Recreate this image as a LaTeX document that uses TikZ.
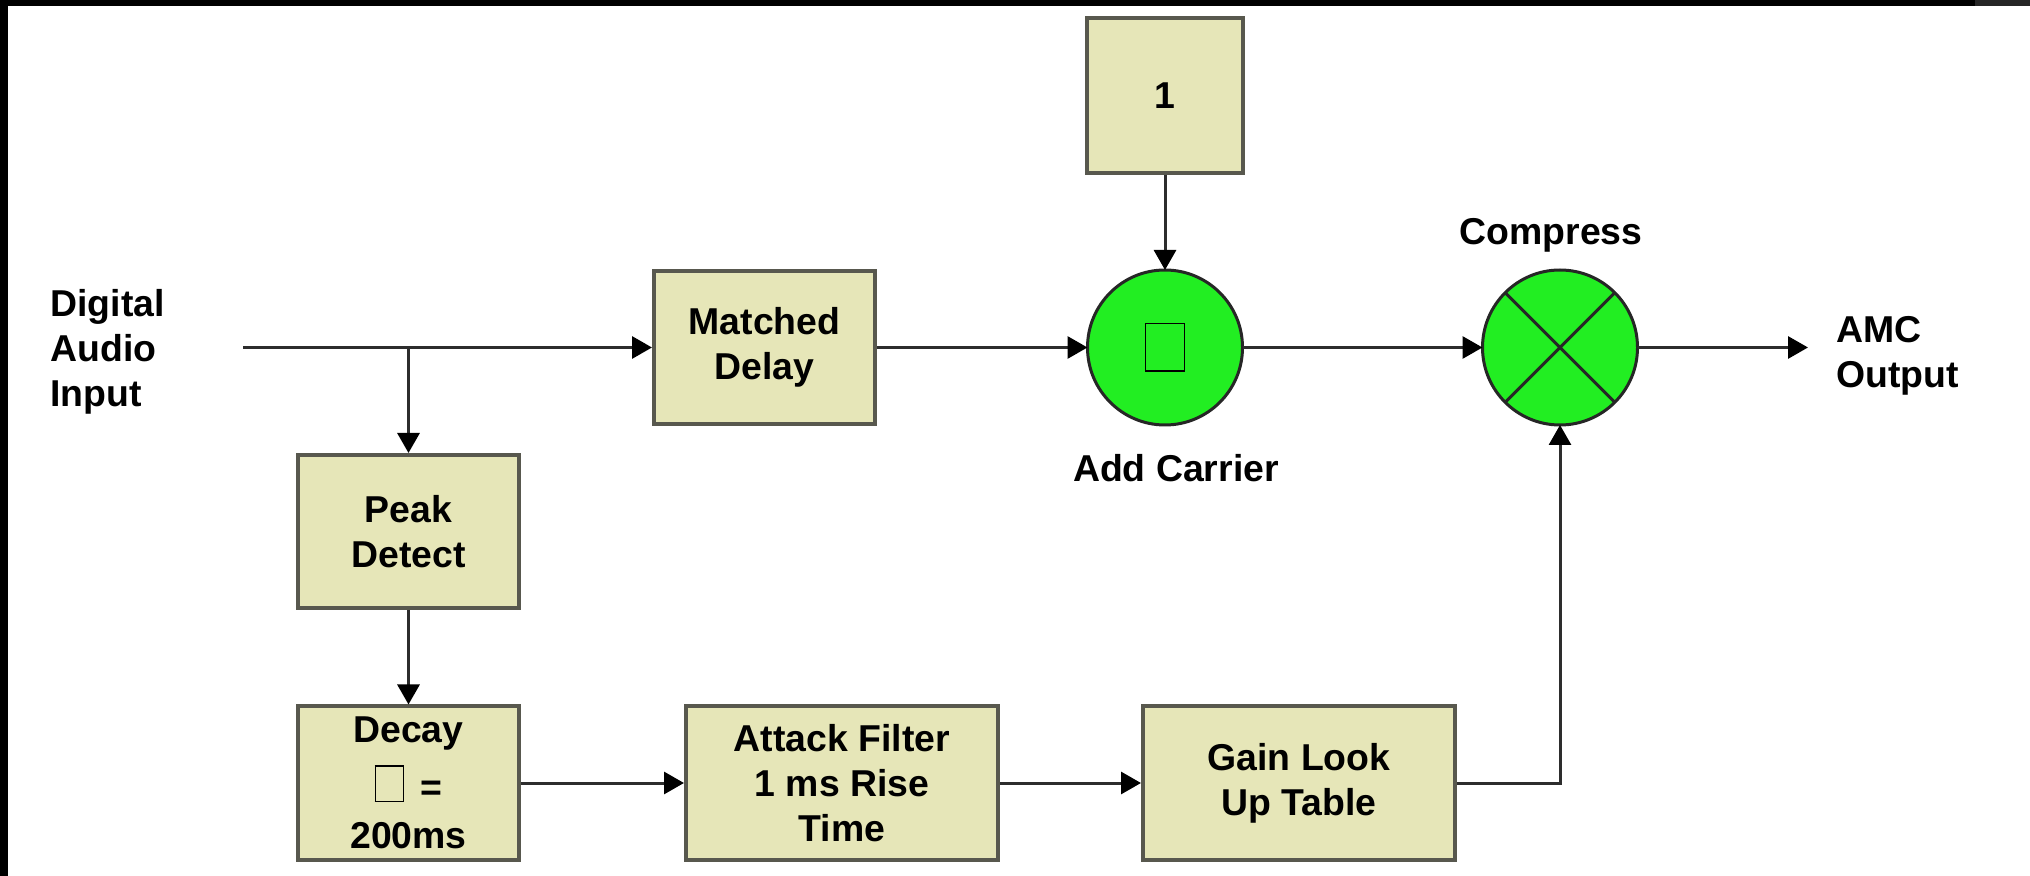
\documentclass[tikz,border=0pt]{standalone}
\usepackage{fontspec}
\setmainfont{Liberation Sans}
\usetikzlibrary{arrows.meta}
\definecolor{boxfill}{RGB}{230,230,184}
\definecolor{boxline}{RGB}{88,88,78}
\definecolor{sumfill}{RGB}{34,238,34}
\definecolor{wirecol}{RGB}{45,45,45}
% empty glyph placeholder box
\newcommand\tofubox[2]{{\setlength\fboxsep{0pt}\setlength\fboxrule{0.6pt}\fbox{\rule{0pt}{#2}\rule{#1}{0pt}}}}
\begin{document}
\begin{tikzpicture}[x=0.5pt,y=-0.5pt,
  every node/.style={font=\fontsize{18.7}{22.5}\selectfont\bfseries, inner sep=0pt},
  block/.style={draw=boxline, line width=2pt, fill=boxfill, align=center, minimum height=76.5pt},
  narrow/.style={block, minimum width=110.5pt},
  wide/.style={block, minimum width=156pt},
  sumnode/.style={circle, draw=black!85, line width=1.5pt, fill=sumfill, minimum size=77.5pt, outer sep=0pt},
  wire/.style={draw=wirecol, line width=1.5pt},
  flow/.style={wire, -{Triangle[length=10pt,width=11pt,color=black]}},
  tag/.style={align=left}
]
\useasboundingbox (0,0) rectangle (2030,876);
\fill[white] (0,0) rectangle (2030,876);
% frame strips
\fill[black] (0,0) rectangle (8,876);
\fill[black] (0,0) rectangle (2030,6);
\fill[black!85] (1975,0) rectangle (2030,6);

% labels
\node[tag, anchor=west] (in) at (50,352) {Digital\\Audio\\Input};
\node[tag, anchor=west] (out) at (1836,356) {AMC\\Output};

% blocks
\node[narrow] (delay) at (764.5,347.5) {Matched\\Delay};
\node[narrow] (peak) at (408.5,531.5) {Peak\\Detect};
\node[narrow] (decay) at (408.5,783) {Decay\\[6.5pt]\tofubox{13.5pt}{17pt}\hspace{3pt} =\\[1.5pt]200ms};
\node[wide] (attack) at (842,783) {Attack Filter\\1 ms Rise\\Time};
\node[wide] (gain) at (1299,783) {Gain Look\\Up Table};
\node[block, minimum width=78pt, minimum height=77.5pt] (one) at (1165,95.5) {1};

% summing and multiplying junctions
\node[sumnode] (add) at (1165,347.5) {\tofubox{19pt}{23pt}};
\node[sumnode] (mul) at (1560,347.5) {};
\draw[line width=1.5pt, black!85] (mul.north west) -- (mul.south east) (mul.north east) -- (mul.south west);
\node[anchor=base] (addlbl) at (1176,482) {Add Carrier};
\node[anchor=base] (mullbl) at (1551,245) {Compress};

% signal paths
\coordinate (start) at (243,347.5);
\coordinate (tap) at (408.5,347.5);
\coordinate (outend) at (1808,347.5);
\draw[wire] (start) -- (tap);
\draw[flow] (tap) -- (delay.west);
\draw[flow] (tap) -- (peak.north);
\draw[flow] (peak) -- (decay);
\draw[flow] (decay) -- (attack);
\draw[flow] (attack) -- (gain);
\draw[flow] (delay) -- (add);
\draw[flow] (one) -- (add);
\draw[flow] (add) -- (mul);
\draw[flow] (gain.east) -| (mul.south);
\draw[flow] (mul) -- (outend);
\end{tikzpicture}
\end{document}
